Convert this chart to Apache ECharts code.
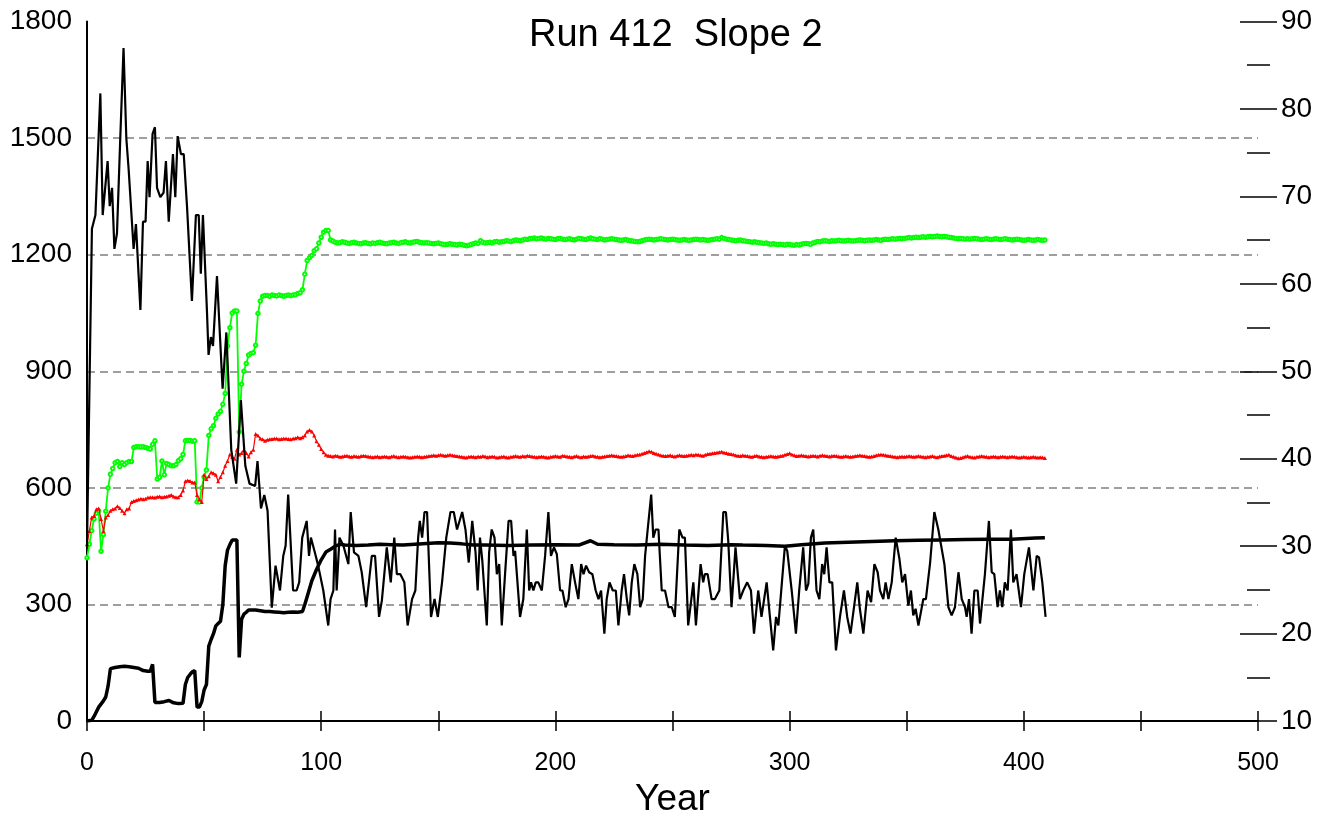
<!DOCTYPE html>
<html>
<head>
<meta charset="utf-8">
<script src="https://cdn.jsdelivr.net/npm/echarts@6/dist/echarts.min.js"></script>
<style>
html,body{margin:0;padding:0;background:#fff;}
#chart{width:1324px;height:823px;}
</style>
</head>
<body>
<div id="chart"></div>
<script>
const titleText = 'Run 412  Slope 2';
const xName = 'Year';
const leftTicks = [0, 300, 600, 900, 1200, 1500, 1800];
const rightTicks = [10, 20, 30, 40, 50, 60, 70, 80, 90];
const xTicks = [0, 100, 200, 300, 400, 500];

// Green series (yearly, from year 0)
const greenValues = [
420,455,490,520,535,541,437,480,540,600,
635,650,665,668,655,665,660,665,668,668,
704,706,706,705,706,704,702,700,712,721,
623,627,669,634,663,660,657,657,660,670,
675,686,721,722,722,720,721,564,564,600,
628,646,735,752,760,779,790,797,815,843,
965,1012,1050,1055,1055,744,867,900,920,942,
946,948,967,1049,1081,1093,1095,1095,1093,1096,
1095,1094,1096,1095,1093,1095,1096,1095,1096,1097,
1100,1102,1110,1150,1185,1192,1198,1210,1215,1230,
1245,1258,1262,1262,1238,
1235,1232,1230,1231,1233,1232,1230,1229,1231,1232,
1230,1229,1228,1230,1231,1229,1228,1230,1229,1231,
1232,1230,1229,1228,1230,1231,1232,1230,1229,1231,
1232,1233,1231,1230,1232,1233,1234,1232,1231,1230,
1231,1230,1229,1228,1229,1230,1228,1227,1226,1227,
1228,1227,1226,1225,1227,1226,1224,1223,1224,1226,
1228,1230,1229,1236,1232,1230,1231,1232,1230,1233,
1234,1232,1233,1234,1236,1235,1234,1236,1238,1237,
1236,1238,1240,1239,1241,1242,1243,1241,1242,1243,
1241,1240,1242,1241,1240,1239,1241,1242,1240,1239,
1240,1241,1239,1238,1240,1242,1241,1240,1239,1241,
1243,1241,1240,1239,1241,1240,1238,1239,1240,1241,
1240,1239,1238,1237,1238,1239,1237,1236,1235,1234,
1233,1234,1236,1238,1239,1240,1239,1238,1239,1240,
1241,1240,1239,1238,1239,1240,1239,1238,1237,1238,
1239,1238,1237,1238,1239,1240,1239,1238,1239,1238,
1237,1238,1239,1240,1241,1240,1244,1242,1240,1239,
1238,1237,1236,1237,1238,1236,1235,1234,1233,1232,
1233,1232,1231,1230,1229,1230,1228,1227,1228,1227,
1226,1227,1226,1225,1227,1226,1225,1224,1226,1225,
1227,1228,1229,1228,1227,1230,1232,1234,1233,1235,
1236,1235,1234,1236,1235,1236,1237,1236,1235,1236,
1237,1236,1235,1236,1237,1238,1237,1236,1237,1238,
1237,1238,1239,1238,1237,1239,1240,1239,1240,1241,
1240,1241,1242,1241,1242,1243,1244,1243,1244,1245,
1244,1245,1246,1245,1246,1247,1246,1247,1248,1247,
1246,1247,1246,1245,1244,1243,1242,1241,1242,1241,
1240,1241,1240,1241,1242,1241,1240,1239,1240,1241,
1240,1239,1240,1241,1240,1239,1240,1241,1240,1239,
1238,1239,1240,1239,1238,1237,1238,1239,1238,1237,
1238,1239,1238,1237,1238
];

// Red series (yearly, from year 0)
const redValues = [
455,489,524,528,545,547,520,489,524,530,
541,545,547,553,548,541,535,545,547,564,
566,568,570,572,571,572,575,576,576,575,
577,578,576,577,578,580,582,578,576,576,
582,593,617,619,618,614,614,582,570,564,
634,623,630,640,638,634,617,628,640,657,
669,686,680,675,698,686,690,698,690,681,
692,698,739,735,727,725,721,724,725,726,
727,727,725,726,727,727,726,725,727,728,
730,728,730,735,745,749,745,735,720,711,
700,692,685,683,682,
681,683,682,680,681,682,683,681,680,682,
681,680,682,683,682,681,680,679,680,681,
679,680,681,680,679,681,682,680,679,680,
681,680,679,678,679,680,681,680,679,680,
681,682,683,684,683,684,685,684,683,684,
685,684,683,682,681,680,679,678,680,681,
680,679,681,680,682,681,679,680,681,680,
678,679,680,681,679,678,680,681,682,681,
680,682,681,683,682,681,680,679,680,681,
680,679,678,680,681,682,681,680,683,682,
681,680,679,681,682,680,679,681,680,681,
682,683,681,680,679,680,681,682,683,684,
683,682,681,680,681,682,684,683,682,684,
685,686,688,690,692,694,693,690,688,686,
684,683,682,683,684,682,681,683,684,683,
682,683,684,685,684,686,685,684,683,685,
687,688,689,690,691,692,693,691,690,688,
687,686,684,683,682,684,683,682,681,680,
682,683,681,680,679,680,681,682,681,680,
681,682,683,685,687,689,686,684,682,683,
684,683,682,681,682,683,682,681,683,684,
683,682,681,682,683,682,681,680,681,682,
681,680,681,682,683,684,683,682,681,680,
681,682,684,685,686,685,684,683,682,681,
680,679,680,681,680,681,682,681,680,681,
682,681,680,679,680,681,682,680,679,681,
682,683,684,685,682,680,678,676,677,679,
681,682,680,679,678,680,681,682,681,680,
679,680,681,680,679,680,681,680,679,680,
681,680,679,678,679,680,679,678,679,680,
679,678,679,678,677
];

// Thick black series: [year, value]
const thickBlack = [
[0,0],[2,2],[3,12],[5,36],[7,52],[8,62],[9,90],[10,135],[12,138],[14,140],[16,141],[18,140],[20,138],[22,136],[24,130],[26,128],[27,128],[28,146],[29,48],[31,48],[33,50],[35,53],[37,47],[39,45],[41,46],[42,94],[43,112],[44,120],[45,127],[46,130],[47,36],[48,36],[49,50],[50,80],[51,94],[52,193],[53,210],[54,225],[55,245],[56,251],[57,257],[58,300],[59,400],[60,440],[61,454],[62,466],[63,466],[64,466],[65,164],[66,262],[67,275],[68,280],[69,286],[70,286],[72,286],[74,284],[76,282],[78,282],[80,281],[82,280],[84,279],[86,280],[88,281],[90,280],[92,282],[93,300],[94,320],[96,361],[98,390],[100,415],[102,435],[104,442],[106,450],[108,455],[110,453],[115,452],[120,453],[125,455],[130,454],[135,453],[140,455],[145,457],[150,459],[155,458],[160,456],[165,453],[170,453],[180,452],[190,453],[200,454],[210,453],[215,464],[218,455],[225,454],[235,453],[245,455],[255,453],[265,452],[275,454],[280,453],[290,452],[298,450],[305,454],[315,458],[325,460],[335,462],[345,464],[355,465],[365,466],[375,467],[385,468],[395,468],[405,471],[409,472]
];

// Thin black series: [year, value]
const thinBlack = [
[0,450],[2.1,1267],[3.6,1302],[5.7,1615],[6.7,1302],[8.8,1441],[9.7,1325],[10.7,1372],[11.7,1215],[12.8,1255],[14.2,1499],[15.6,1732],[16.8,1499],[17.8,1418],[19.9,1215],[20.9,1279],[22.8,1058],[23.9,1285],[25.0,1285],[25.9,1441],[26.7,1348],[28.0,1511],[29.0,1528],[29.9,1372],[31.3,1348],[32.7,1360],[33.7,1441],[34.9,1285],[36.7,1459],[37.7,1348],[38.7,1505],[40.1,1459],[41.3,1459],[42.7,1325],[44.8,1081],[46.5,1302],[47.7,1302],[48.6,1151],[49.5,1302],[51.2,1058],[51.9,942],[52.9,988],[53.8,965],[55.5,1145],[57.9,855],[59.5,1000],[61.6,698],[63.7,611],[65.7,826],[67.6,657],[69.4,611],[71.8,605],[72.8,669],[74.3,547],[75.7,582],[77.1,541],[78.9,292],[80.5,400],[82.4,336],[83.8,425],[84.8,451],[85.9,583],[88.0,336],[89.5,336],[90.6,357],[91.9,472],[93.8,515],[94.8,425],[95.6,472],[97.3,434],[98.7,400],[100.9,336],[103.0,246],[104.0,314],[105.2,336],[105.9,493],[106.6,336],[107.8,472],[109.5,451],[111.6,404],[112.6,538],[114.0,434],[115.9,425],[117.3,383],[119.2,293],[121.6,425],[123.0,425],[124.7,268],[125.9,310],[128.0,447],[129.7,357],[131.2,472],[132.3,378],[133.8,378],[135.5,357],[136.9,246],[138.8,314],[140.2,336],[141.4,472],[142.1,515],[143.1,472],[144.1,538],[145.2,538],[146.9,268],[148.4,314],[149.8,268],[151.6,357],[153.4,472],[155.2,538],[156.6,538],[158.0,493],[160.2,538],[161.6,493],[163.0,408],[164.5,515],[165.9,434],[166.8,336],[167.8,472],[168.8,412],[170.7,246],[171.7,434],[172.8,493],[174.0,472],[175.0,378],[176.0,404],[177.1,246],[178.5,378],[180.0,515],[181.1,515],[182.1,425],[182.8,438],[184.9,268],[186.3,314],[187.8,493],[188.8,336],[189.6,357],[190.6,336],[191.6,357],[192.7,357],[194.2,336],[195.6,425],[197.0,538],[198.1,425],[199.4,447],[200.6,430],[202.0,336],[203.0,336],[204.4,293],[205.6,314],[207.0,404],[208.4,357],[209.8,314],[211.0,404],[212.0,378],[213.1,400],[214.4,383],[215.8,378],[217.2,336],[218.4,314],[219.5,336],[220.9,225],[221.9,314],[223.1,357],[224.5,336],[225.8,336],[226.9,246],[228.3,336],[229.3,378],[230.5,314],[231.5,272],[232.6,357],[233.7,404],[235.0,378],[236.2,293],[237.3,314],[238.3,425],[239.4,493],[240.9,583],[241.8,472],[242.8,493],[244.0,493],[245.4,336],[246.8,336],[248.3,293],[249.7,293],[251.0,268],[252.9,493],[254.3,472],[255.3,472],[256.7,246],[258.9,357],[260.0,246],[262.0,404],[263.1,357],[263.8,378],[265.0,378],[266.7,314],[268.1,314],[270.0,336],[271.7,538],[272.8,538],[273.8,464],[275.2,293],[276.9,447],[278.8,314],[280.2,336],[281.9,357],[283.5,336],[284.8,225],[286.6,336],[288.0,268],[290.2,357],[291.6,268],[293.0,182],[294.2,268],[295.2,246],[298.0,451],[299.0,438],[300.9,336],[302.7,225],[304.1,336],[305.8,447],[307.0,336],[308.0,353],[309.1,472],[310.1,493],[311.5,336],[312.7,314],[313.9,404],[314.8,378],[315.8,447],[317.0,357],[318.2,357],[319.8,182],[321.5,268],[323.2,336],[324.6,268],[326.0,225],[327.5,293],[328.9,357],[330.0,289],[331.5,225],[333.3,336],[334.8,306],[336.2,404],[337.6,383],[338.6,336],[340.0,314],[341.0,357],[342.2,314],[343.6,357],[345.3,472],[346.9,417],[348.1,357],[349.3,378],[350.7,297],[351.8,336],[352.8,272],[353.8,289],[355.0,246],[357.1,314],[358.2,314],[360.0,408],[361.8,538],[363.5,493],[366.1,404],[367.8,293],[369.2,272],[370.6,293],[372.1,383],[373.5,314],[374.9,293],[375.6,268],[376.6,314],[377.7,225],[378.9,336],[380.3,336],[381.3,251],[383.4,378],[385.1,515],[386.3,383],[387.4,378],[388.8,293],[389.8,336],[390.8,293],[391.9,357],[393.1,336],[394.5,493],[395.5,357],[396.9,378],[398.8,293],[400.2,378],[402.2,447],[404.1,336],[405.5,425],[406.5,421],[407.9,357],[409.3,268]
];

const greenData = greenValues.map((v, i) => [i, v]);
const redData = redValues.map((v, i) => [i, v]);

const FONT = 'Liberation Sans, Arial, sans-serif';
const chart = echarts.init(document.getElementById('chart'), null, {renderer: 'canvas'});

const option = {
  animation: false,
  backgroundColor: '#ffffff',
  title: {
    text: titleText,
    left: 524,
    top: 12,
    textStyle: {fontFamily: FONT, fontSize: 38, fontWeight: 'normal', color: '#000'}
  },
  grid: {left: 87, right: 66, top: 21.5, bottom: 98.5, containLabel: false},
  xAxis: [
    {
      type: 'value', min: 0, max: 500, interval: 50, position: 'bottom',
      name: xName, nameLocation: 'middle', nameGap: 57,
      nameTextStyle: {fontFamily: FONT, fontSize: 37, color: '#000'},
      axisLine: {show: true, onZero: false, lineStyle: {color: '#000', width: 2}},
      axisTick: {show: true, inside: false, length: 10, lineStyle: {color: '#000', width: 1.5}},
      axisLabel: {
        show: true, margin: 30, fontFamily: FONT, fontSize: 25, color: '#000',
        formatter: v => (xTicks.indexOf(v) >= 0 ? String(v) : '')
      },
      splitLine: {show: false}
    },
    {
      type: 'value', min: 0, max: 500, interval: 50, position: 'bottom',
      axisLine: {show: false, onZero: false},
      axisTick: {show: true, inside: true, length: 10, lineStyle: {color: '#000', width: 1.5}},
      axisLabel: {show: false},
      splitLine: {show: false}
    }
  ],
  yAxis: [
    {
      type: 'value', min: 0, max: 1800, interval: 300, position: 'left',
      axisLine: {show: true, onZero: false, lineStyle: {color: '#000', width: 2}},
      axisTick: {show: false},
      axisLabel: {
        margin: 15, fontFamily: FONT, fontSize: 28, color: '#000',
        formatter: v => (leftTicks.indexOf(v) >= 0 ? String(v) : '')
      },
      splitLine: {show: true, showMinLine: false, showMaxLine: false,
        lineStyle: {color: '#808080', width: 1.5, type: [8, 5]}}
    },
    {
      type: 'value', min: 10, max: 90, interval: 10, position: 'right',
      axisLine: {show: false, onZero: false},
      axisTick: {show: true, inside: false, length: 19, lineStyle: {color: '#000', width: 1.5}},
      minorTick: {show: true, splitNumber: 2, length: 12, lineStyle: {color: '#000', width: 1.5}},
      axisLabel: {
        margin: 23, fontFamily: FONT, fontSize: 28, color: '#000',
        formatter: v => (rightTicks.indexOf(v) >= 0 ? String(v) : '')
      },
      splitLine: {show: false}
    },
    {
      type: 'value', min: 10, max: 90, interval: 10, position: 'right',
      axisLine: {show: false, onZero: false},
      axisTick: {show: true, inside: true, length: 18, lineStyle: {color: '#000', width: 1.5}},
      minorTick: {show: true, splitNumber: 2, length: 11, lineStyle: {color: '#000', width: 1.5}},
      axisLabel: {show: false},
      splitLine: {show: false}
    }
  ],
  series: [
    {
      name: 'green', type: 'line', xAxisIndex: 0, yAxisIndex: 0, data: greenData,
      symbol: 'emptyCircle', symbolSize: 3.5, showSymbol: true,
      lineStyle: {color: '#00ff00', width: 1.8},
      itemStyle: {color: '#00ff00', borderColor: '#00ff00', borderWidth: 1},
      z: 2
    },
    {
      name: 'red', type: 'line', xAxisIndex: 0, yAxisIndex: 0, data: redData,
      symbol: 'triangle', symbolSize: 4, showSymbol: true,
      lineStyle: {color: '#ff0000', width: 1.2},
      itemStyle: {color: '#ff0000'},
      z: 3
    },
    {
      name: 'thin', type: 'line', xAxisIndex: 0, yAxisIndex: 0, data: thinBlack,
      symbol: 'none', lineStyle: {color: '#000', width: 2.2}, z: 4
    },
    {
      name: 'thick', type: 'line', xAxisIndex: 0, yAxisIndex: 0, data: thickBlack,
      symbol: 'none', lineStyle: {color: '#000', width: 3.5}, z: 5
    }
  ]
};
chart.setOption(option);
</script>
</body>
</html>
